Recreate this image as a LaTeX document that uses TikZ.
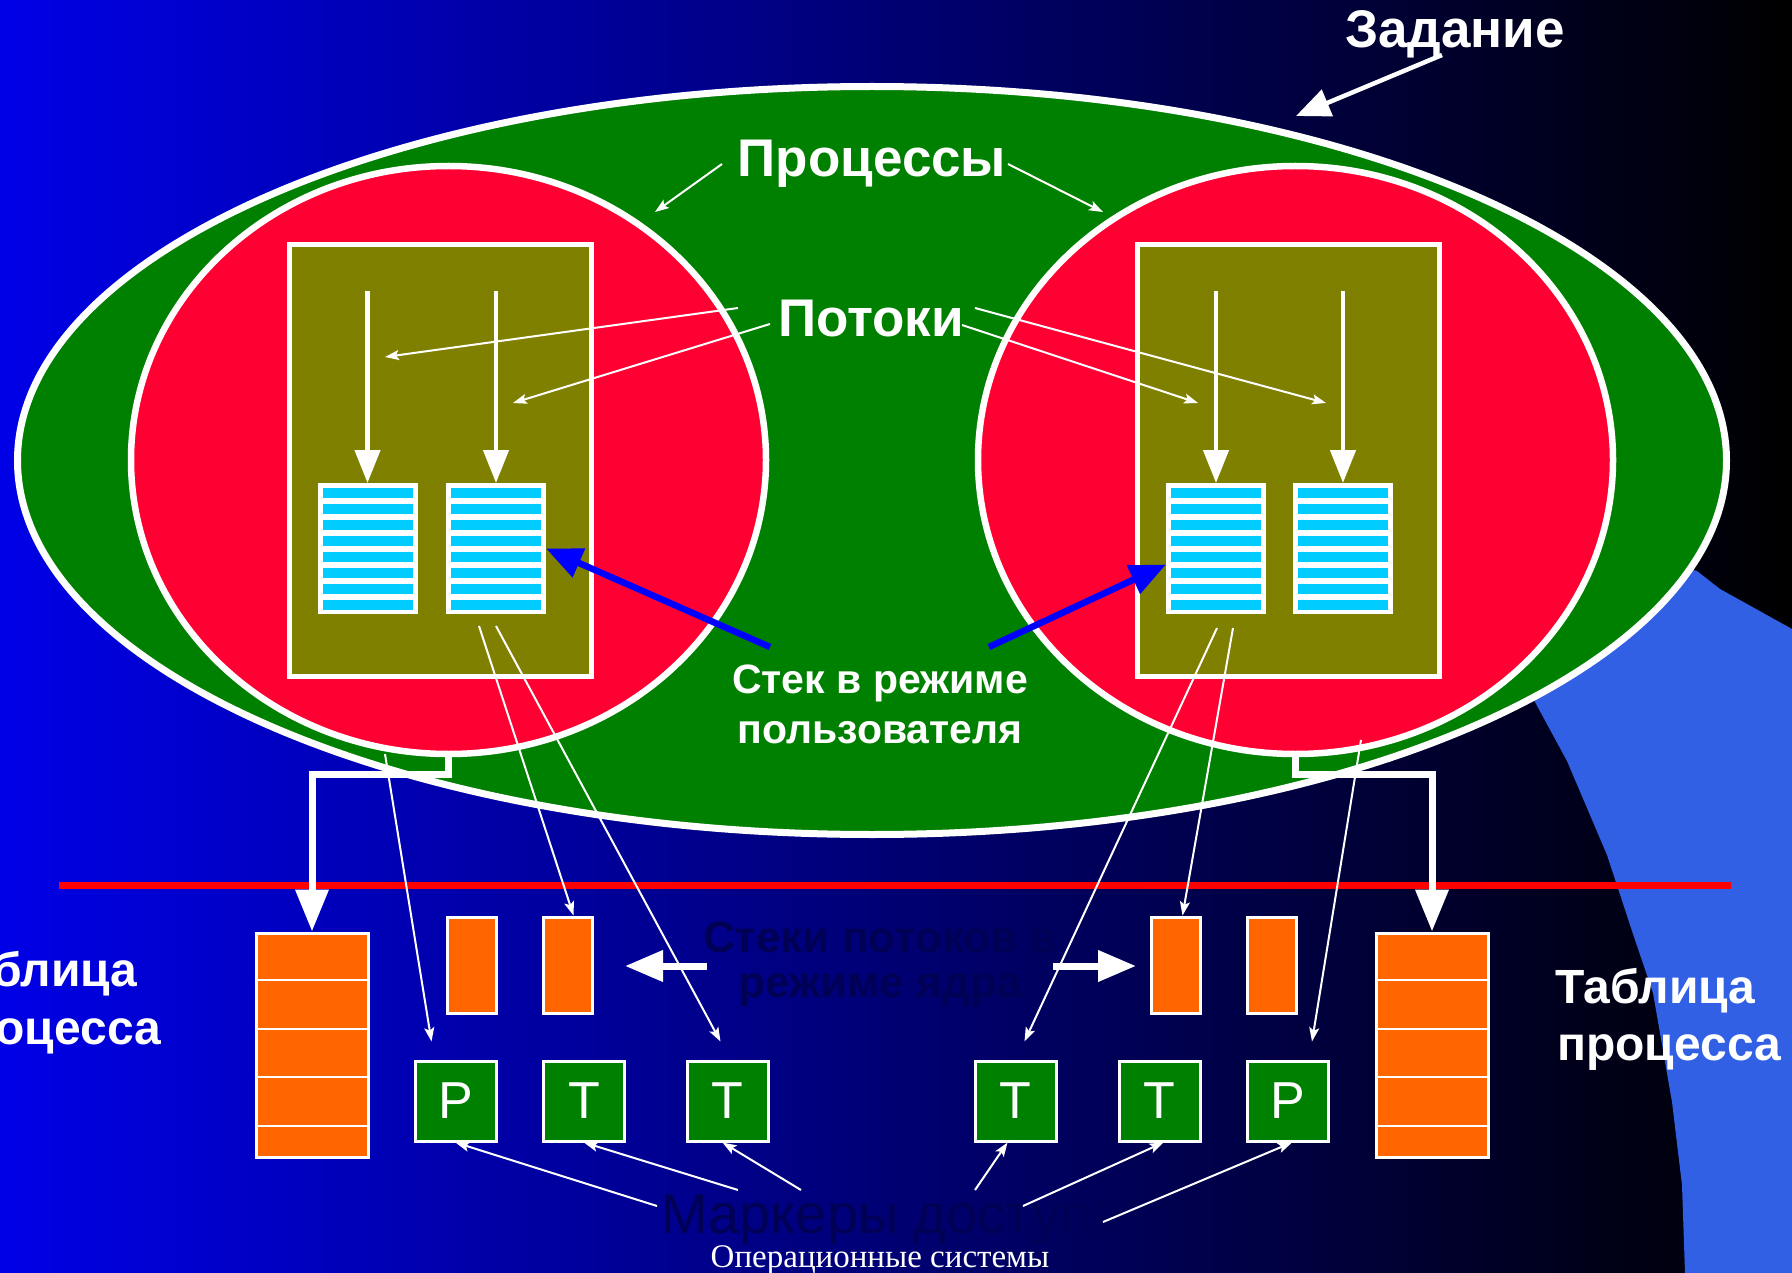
\documentclass[tikz,border=0pt]{standalone}
\usepackage{fontspec}
\setmainfont{Liberation Sans}
\newfontfamily\serifface{Liberation Serif}
\usetikzlibrary{arrows.meta,shapes.geometric,calc}

\definecolor{bgblue}{RGB}{0,0,230}
\definecolor{jobgreen}{RGB}{0,128,0}
\definecolor{procred}{RGB}{255,0,51}
\definecolor{threadolive}{RGB}{128,128,0}
\definecolor{stackcyan}{RGB}{0,204,255}
\definecolor{kernorange}{RGB}{255,102,0}
\definecolor{skyblob}{RGB}{50,96,228}
\definecolor{dimtext}{RGB}{0,0,85}
\definecolor{pureblue}{RGB}{0,0,255}

\tikzset{
  jobshape/.style={ellipse, draw=white, line width=7pt, fill=jobgreen,
    minimum width=1709pt, minimum height=748pt, inner sep=0pt},
  procshape/.style={ellipse, draw=white, line width=6.5pt, fill=procred,
    minimum width=635pt, minimum height=588pt, inner sep=0pt},
  threadbox/.style={rectangle, draw=white, line width=5pt, fill=threadolive,
    minimum width=302pt, minimum height=431pt, inner sep=0pt},
  stackbox/.style={rectangle, fill=white, minimum width=100pt,
    minimum height=131pt, inner sep=0pt, outer sep=0pt},
  tablebox/.style={rectangle, draw=white, line width=3pt, fill=kernorange,
    minimum width=112pt, minimum height=224pt, inner sep=0pt},
  kstack/.style={rectangle, draw=white, line width=3pt, fill=kernorange,
    minimum width=49pt, minimum height=96pt, inner sep=0pt},
  tokenbox/.style={rectangle, draw=white, line width=3pt, fill=jobgreen,
    minimum width=81pt, minimum height=80pt, inner sep=0pt, text=white,
    font=\fontsize{52}{60}\selectfont},
  lbl/.style={text=white, inner sep=0pt, font=\bfseries\fontsize{53}{60}\selectfont},
  midlbl/.style={text=white, inner sep=0pt, font=\bfseries\fontsize{41}{48}\selectfont},
  tablelbl/.style={text=white, inner sep=0pt, anchor=base west,
    font=\bfseries\fontsize{48}{56}\selectfont},
  dimlbl/.style={text=dimtext, inner sep=0pt, font=\bfseries\fontsize{44}{50}\selectfont},
  bigarrow/.style={draw=white, line width=7pt, -{Triangle[length=42pt,width=32pt]}},
  threadarrow/.style={draw=white, line width=4.5pt, -{Triangle[length=33pt,width=25pt]}},
  bluearrow/.style={draw=pureblue, line width=6.5pt, -{Triangle[length=36pt,width=30pt]}},
  jobarrow/.style={draw=white, line width=4.5pt, -{Triangle[length=34pt,width=28pt]}},
  sidearrow/.style={draw=white, line width=7pt, -{Triangle[length=38pt,width=30pt]}},
  thinarrow/.style={draw=white, line width=2pt, -{Stealth[length=14pt,width=10pt,inset=3pt]}},
}

\begin{document}
\begin{tikzpicture}[x=1pt,y=-1pt]
\useasboundingbox (0,0) rectangle (1792,1273);
\begin{scope}
\clip (0,0) rectangle (1792,1273);

% background
\shade[left color=bgblue, right color=black] (0,0) rectangle (1792,1273);
\fill[skyblob] (1685,1273) -- (1682,1185) -- (1672,1102) -- (1653,993)
  -- (1633,934) -- (1607,855) -- (1567,761) -- (1535,702) -- (1480,620)
  -- (1600,540) -- (1697,571) -- (1720,589) -- (1792,629) -- (1792,1273) -- cycle;

% job and its two processes
\node[jobshape] (job) at (872,460.5) {};
\node[procshape] (rL) at (448.5,460) {};
\node[procshape] (rR) at (1295.5,460) {};
\node[threadbox] (oL) at (440,460.5) {};
\node[threadbox] (oR) at (1288,460.5) {};

% user-mode stacks
\node[stackbox] (sL1) at (367.5,548.5) {};
\node[stackbox] (sL2) at (496,548.5) {};
\node[stackbox] (sR1) at (1216,548.5) {};
\node[stackbox] (sR2) at (1343,548.5) {};
\foreach \s in {sL1,sL2,sR1,sR2}
  \foreach \i in {0,...,7}
    \fill[stackcyan] ([xshift=5pt,yshift=-5pt-16pt*\i]\s.north west)
      rectangle ([xshift=-5pt,yshift=-15pt-16pt*\i]\s.north east);

% threads
\coordinate (thL1) at (367.5,291);
\coordinate (thL2) at (496,291);
\coordinate (thR1) at (1216,291);
\coordinate (thR2) at (1343,291);
\draw[threadarrow] (thL1) -- (sL1.north);
\draw[threadarrow] (thL2) -- (sL2.north);
\draw[threadarrow] (thR1) -- (sR1.north);
\draw[threadarrow] (thR2) -- (sR2.north);

% user / kernel boundary
\coordinate (bl) at (59,885.5);
\coordinate (br) at (1731,885.5);
\draw[red, line width=7pt] (bl) -- (br);

% process tables
\node[tablebox] (tL) at (312,1045) {};
\node[tablebox] (tR) at (1432,1045) {};
\foreach \t in {tL,tR}
  \foreach \f in {0.215,0.43,0.642,0.856}
    \draw[white, line width=2pt] ($(\t.north west)!\f!(\t.south west)$)
      -- ($(\t.north east)!\f!(\t.south east)$);

% links from processes to their tables
\draw[bigarrow] (rL.south) -- ++(0,17) -| (tL.north);
\draw[bigarrow] (rR.south) -- ++(0,17) -| (tR.north);

% kernel-mode stacks
\node[kstack] (kL1) at (471.5,965) {};
\node[kstack] (kL2) at (567.5,965) {};
\node[kstack] (kR1) at (1175.5,965) {};
\node[kstack] (kR2) at (1271.5,965) {};

% access tokens
\node[tokenbox] (pL) at (455.5,1101) {P};
\node[tokenbox] (tL1) at (584,1101) {T};
\node[tokenbox] (tL2) at (727.5,1101) {T};
\node[tokenbox] (tR1) at (1015.5,1101) {T};
\node[tokenbox] (tR2) at (1159.5,1101) {T};
\node[tokenbox] (pR) at (1288,1101) {P};

% labels
\node[lbl, anchor=base] (jobtxt) at (1455,48) {Задание};
\node[lbl, anchor=base] (proctxt) at (872,177) {Процессы};
\node[lbl, anchor=base] (thrtxt) at (871,337) {Потоки};
\node[midlbl, anchor=base] (ustk1) at (880,693) {Стек в режиме};
\node[midlbl, anchor=base] (ustk2) at (880,743) {пользователя};
\node[dimlbl, anchor=base] (kstk1) at (880,952) {Стеки потоков в};
\node[dimlbl, anchor=base] (kstk2) at (880,997) {режиме ядра};
\node[text=dimtext, inner sep=0pt, anchor=base west,
  font=\fontsize{56}{64}\selectfont] (marktxt) at (661,1233) {Маркеры доступа};
\node[text=white, inner sep=0pt, anchor=base,
  font=\serifface\fontsize{33}{40}\selectfont] (foot) at (880,1267) {Операционные системы};
\node[tablelbl] (tabL1) at (-63,986) {Таблица};
\node[tablelbl] (tabL2) at (-63,1044) {процесса};
\node[tablelbl] (tabR1) at (1555,1003) {Таблица};
\node[tablelbl] (tabR2) at (1557,1060) {процесса};

% job pointer
\coordinate (jobfrom) at (1442,55);
\coordinate (jobto) at (1296,116);
\draw[jobarrow] (jobfrom) -- (jobto);

% process pointers
\coordinate (pa1) at (722,164); \coordinate (pb1) at (655,212);
\coordinate (pa2) at (1008,164); \coordinate (pb2) at (1103,212);
\draw[thinarrow] (pa1) -- (pb1);
\draw[thinarrow] (pa2) -- (pb2);

% thread pointers
\coordinate (ta1) at (738,308); \coordinate (tb1) at (385,357);
\coordinate (ta2) at (770,324); \coordinate (tb2) at (513,403);
\coordinate (ta3) at (975,308); \coordinate (tb3) at (1326,403);
\coordinate (ta4) at (962,325); \coordinate (tb4) at (1198,403);
\draw[thinarrow] (ta1) -- (tb1);
\draw[thinarrow] (ta2) -- (tb2);
\draw[thinarrow] (ta3) -- (tb3);
\draw[thinarrow] (ta4) -- (tb4);

% user-mode stack pointers
\coordinate (bsL) at (770,647);
\coordinate (bsR) at (989,647);
\draw[bluearrow] (bsL) -- (sL2.east);
\draw[bluearrow] (bsR) -- ([yshift=-16pt]sR1.west);

% kernel-mode stack pointers
\coordinate (ksL) at (707,966);
\coordinate (ksR) at (1053,966);
\draw[sidearrow] (ksL) -- (625,966);
\draw[sidearrow] (ksR) -- (1136,966);

% links from threads and processes to kernel objects
\coordinate (ua) at (479,626);
\coordinate (ub) at (496,626);
\coordinate (uc) at (385,754);
\coordinate (ud) at (1217,628);
\coordinate (ue) at (1233,628);
\coordinate (uf) at (1361,740);
\draw[thinarrow] (ua) -- ([xshift=6pt]kL2.north);
\draw[thinarrow] (ub) -- ([xshift=-7pt,yshift=18pt]tL2.north);
\draw[thinarrow] (uc) -- ([xshift=-24pt,yshift=18pt]pL.north);
\draw[thinarrow] (ud) -- ([xshift=9pt,yshift=18pt]tR1.north);
\draw[thinarrow] (ue) -- ([xshift=7pt]kR1.north);
\draw[thinarrow] (uf) -- ([xshift=24pt,yshift=18pt]pR.north);

% access token pointers
\coordinate (m1) at (657,1206);
\coordinate (m2) at (738,1190);
\coordinate (m3) at (801,1190);
\coordinate (m4) at (975,1190);
\coordinate (m5) at (1023,1206);
\coordinate (m6) at (1103,1222);
\draw[thinarrow] (m1) -- (pL.south);
\draw[thinarrow] (m2) -- (tL1.south);
\draw[thinarrow] (m3) -- ([xshift=-5pt]tL2.south);
\draw[thinarrow] (m4) -- ([xshift=-8pt]tR1.south);
\draw[thinarrow] (m5) -- ([xshift=4pt]tR2.south);
\draw[thinarrow] (m6) -- ([xshift=4pt]pR.south);
\end{scope}
\end{tikzpicture}
\end{document}
